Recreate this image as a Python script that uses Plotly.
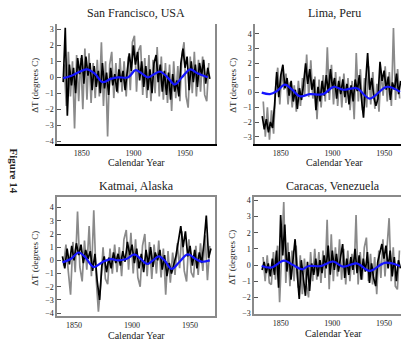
import plotly.graph_objects as go

W, H = 401, 347

# ---------------- data ----------------
titles = ["San Francisco, USA", "Lima, Peru", "Katmai, Alaska", "Caracas, Venezuela"]
x_tick_vals = [1850, 1900, 1950]
x_tick_text = ["1850", "1900", "1950"]

sf_black_years = list(range(1832, 1975, 2))
sf_black = [-0.3, 3.1, -2.4, 0.8, -0.5, 0.6, -1.0, 1.2, 0.2, 1.4, -0.4, 1.3, 0.1, 0.9, -0.8, 0.7,
            -0.6, 0.4, -1.0, 0.9, -0.7, 0.3, -1.1, 0.6, -0.5, 0.2, -0.9, 0.5, -0.3, 0.4, -0.8, 0.6,
            1.5, 0.4, 2.0, 0.8, 1.6, -0.2, 1.0, -0.6, 0.7, -0.8, 0.5, -1.0, 0.9, 1.4, -0.3, 0.8,
            -0.9, 0.4, -1.1, 0.3, -1.4, 0.2, -0.9, -0.2, -1.2, 0.9, 1.8, 0.6, 1.3, -0.8, 1.0, -0.3,
            0.8, -0.6, 0.9, 0.1, 1.1, -0.4, 0.6, -0.1]
sf_grey_years = list(range(1833, 1974, 2))
sf_grey = [0.8, -1.8, 1.6, -1.2, 1.0, -3.2, 1.4, -1.5, 1.2, -2.0, 1.8, -1.4, 1.5, -1.6, 0.9, -1.3,
           1.1, -1.2, 2.2, -1.8, 1.0, -3.7, 0.8, 1.6, -1.3, 0.9, -1.0, 1.2, -0.9, 1.0, -1.2, 1.3,
           -0.8, 2.2, 2.6, -0.9, 1.7, 2.0, -1.1, 1.2, -1.3, 1.4, -1.5, 1.1, -1.0, 1.9, -1.2, 1.3,
           -1.4, 0.9, -1.6, 0.8, -2.1, 1.0, -1.3, 0.7, -1.5, 1.4, 2.2, -1.2, -1.9, 1.3, -1.0, 1.6,
           -1.2, 1.1, -0.9, 1.3, -1.1, -1.5, 0.9]
sf_smooth_years = [1832, 1840, 1855, 1863, 1870, 1878, 1885, 1895, 1902, 1908, 1914, 1920, 1926,
                   1933, 1940, 1947, 1955, 1962, 1972]
sf_smooth = [-0.05, 0.1, 0.5, 0.2, -0.3, -0.1, 0.0, 0.0, 0.45, 0.25, 0.0, 0.2, 0.35, 0.0, -0.45,
             0.0, 0.5, 0.25, 0.0]

lima_black_years = list(range(1832, 1967, 2))
lima_black = [-1.6, -2.5, -1.8, -2.7, -2.0, -2.4, -0.8, 1.4, -0.3, 1.2, 1.9, 0.3, 1.0, -0.2, 0.8,
              -0.6, 0.2, -1.1, 0.3, -0.5, 0.6, 2.0, 0.6, 1.6, 0.2, 0.9, -1.2, 0.4, -0.6, 0.8, -0.2,
              1.2, 0.0, 1.6, 0.3, 1.0, -0.4, 0.8, -0.1, 0.9, -0.3, 0.6, -0.8, 0.5, -0.6, 0.9, 0.1,
              1.2, -0.4, -1.7, 0.6, 2.7, 0.2, 1.0, -0.3, -0.9, -0.4, 2.1, 0.8, 1.5, 0.2, 1.1, -0.5,
              0.7, 0.2, 1.3, -0.1, 0.8]
lima_grey_years = list(range(1833, 1966, 2))
lima_grey = [-0.6, -3.0, -1.0, -3.2, -1.2, -2.8, 0.4, 1.7, -0.8, 1.5, 0.2, 1.3, -0.8, 0.7, -1.0,
             0.5, -1.3, 0.8, -0.9, 1.0, -0.2, 2.6, -0.3, 2.2, -0.4, 1.1, -1.8, 0.9, -1.0, 1.2, -0.6,
             3.1, -0.5, 1.9, -0.8, 1.4, -0.9, 1.1, -1.0, 1.3, -0.7, 1.0, -1.2, 0.8, -1.8, 2.7, -0.6,
             1.6, -1.2, 1.0, -1.0, 1.8, -0.8, 1.4, -1.1, 0.6, -1.3, 1.5, -0.2, 1.8, -0.6, 1.4, -0.9,
             4.4, -0.5, 1.6, -0.4]
lima_smooth_years = [1831.5, 1839.5, 1846, 1854, 1861, 1868.6, 1878, 1891, 1901, 1910.5, 1923.5,
                     1936, 1952.5, 1965.4]
lima_smooth = [0.0, -0.1, 0.1, 0.55, 0.2, -0.25, -0.1, -0.1, 0.4, 0.2, 0.3, -0.4, 0.4, 0.05]

katmai_black_years = list(range(1840, 1969, 2))
katmai_black = [0.3, -0.6, 0.9, -0.3, 1.1, 0.0, 1.3, 0.4, 1.2, -0.2, 0.8, 0.1, 0.7, -0.8, 0.5,
                -1.6, -3.0, -0.4, 0.3, -0.9, 0.2, -0.6, 0.6, -0.2, 0.5, -0.4, 0.7, -0.1, 1.4, 0.4,
                1.2, -0.2, 0.9, -0.6, 0.5, -0.9, 0.8, -0.3, 1.0, -0.5, 0.6, 0.0, 0.8, -0.7, 0.4,
                -1.2, -0.2, -1.0, -0.3, 0.4, 1.5, 2.6, 1.0, 2.2, 0.3, 1.1, -0.4, 0.8, -0.6, 0.6,
                -0.2, 1.3, 3.4, 0.2, 0.9]
katmai_grey_years = list(range(1841, 1968, 2))
katmai_grey = [-0.4, 1.2, -0.8, -2.6, 1.4, -0.9, 3.7, -0.5, -1.6, 1.5, -0.7, 2.6, -1.2, 3.8, -1.3,
               -3.9, -1.8, 1.0, -1.4, -1.8, 0.9, -1.0, 1.2, -0.9, 1.0, -1.2, 1.6, 2.3, -0.7, 2.1,
               -1.0, 1.6, -1.3, -2.0, 1.1, 2.0, -1.2, 1.4, -1.4, 1.2, -1.0, 1.5, -1.3, 0.9, -2.6,
               0.7, -1.7, 0.6, -1.1, 1.3, -0.6, 2.2, -0.8, -1.6, 1.6, -0.9, -1.3, 1.1, -1.1, 1.3,
               -0.8, 1.9, -1.5, 1.1]
katmai_smooth_years = [1840, 1847, 1854, 1860, 1867, 1875, 1882, 1888, 1895, 1902, 1907, 1913,
                       1918, 1923, 1928, 1934, 1941, 1948, 1955, 1960, 1967]
katmai_smooth = [-0.15, 0.1, 0.6, 0.2, -0.5, -0.1, 0.1, 0.0, 0.1, 0.45, 0.15, -0.27, 0.0, 0.3,
                 0.0, -0.65, -0.1, 0.45, 0.1, -0.1, 0.0]

caracas_black_years = list(range(1832, 1967, 2))
caracas_black = [-0.3, 0.2, -0.5, 0.1, -0.7, 0.4, -0.6, 0.9, -1.4, 3.1, 0.6, 2.5, -0.4, 0.8, -0.9,
                 0.5, 1.6, -0.5, -2.1, 0.3, -1.0, -1.9, 0.2, -1.6, 0.1, -0.6, 0.4, -0.7, 0.3, -0.5,
                 0.6, -0.2, 1.2, -0.6, 0.9, -0.3, 0.7, -0.4, 0.5, 1.3, -0.8, 0.4, -0.6, 0.5, -0.3,
                 1.0, -0.5, 0.6, -0.9, 0.4, -0.4, 0.8, -1.1, 0.1, -0.8, -1.3, 0.2, 0.7, 1.3, 0.4,
                 1.2, -0.2, 0.9, -0.7, 0.5, -1.0, 0.3, -0.2]
caracas_grey_years = list(range(1833, 1966, 2))
caracas_grey = [0.5, -1.0, 0.6, -1.1, -1.2, 0.8, -0.9, 1.2, -2.3, 1.1, 3.9, -1.1, 1.4, -1.3, 0.9,
                -1.0, 1.2, -1.4, 0.6, -1.8, 0.4, -1.2, -2.0, 0.8, -1.0, 1.0, -0.9, 0.8, -1.1, 0.9,
                -0.8, 2.8, -1.5, 1.9, -1.0, 1.1, -0.7, 1.6, -0.9, 1.0, -1.2, 0.9, -1.0, 0.7, -0.6,
                3.1, -1.2, 0.8, -0.9, 1.1, 1.7, -1.0, 0.7, -1.2, 0.5, -1.8, 0.9, -0.8, 1.6, -0.7,
                1.0, 2.9, -1.0, 1.1, -1.3, -1.5, 0.9]
caracas_smooth_years = [1831.6, 1841, 1853.2, 1862, 1871, 1877, 1889, 1900.8, 1910.5, 1923.5,
                        1936.3, 1950.9, 1965.4]
caracas_smooth = [-0.06, -0.15, 0.28, 0.0, -0.26, -0.06, -0.06, 0.22, -0.1, 0.1, -0.36, 0.14, -0.06]

y_ticks = [[3, 2, 1, 0, -1, -2, -3, -4], [4, 3, 2, 1, 0, -1, -2, -3],
           [4, 3, 2, 1, 0, -1, -2, -3, -4], [4, 3, 2, 1, 0, -1, -2, -3]]

# ---------------- layout geometry (pixels) ----------------
boxes = [(57, 215, 23, 145), (255, 401, 23, 145), (57, 215, 199, 320), (254, 401, 199, 318)]
x_ranges = [[1826, 1979], [1825, 1966.3], [1835.3, 1971.5], [1824.2, 1966.5]]
y_ranges = [[-4.17, 3.36], [-3.49, 4.7], [-4.25, 4.8], [-3.05, 4.2]]

series = [
    (sf_grey_years, sf_grey, sf_black_years, sf_black, sf_smooth_years, sf_smooth),
    (lima_grey_years, lima_grey, lima_black_years, lima_black, lima_smooth_years, lima_smooth),
    (katmai_grey_years, katmai_grey, katmai_black_years, katmai_black, katmai_smooth_years, katmai_smooth),
    (caracas_grey_years, caracas_grey, caracas_black_years, caracas_black, caracas_smooth_years, caracas_smooth),
]

def px(x):
    return x / W

def py(y):
    return 1 - y / H

fig = go.Figure()
layout = dict(width=W, height=H, margin=dict(l=0, r=0, t=0, b=0),
              paper_bgcolor="white", plot_bgcolor="white", showlegend=False)
annotations = []
serif = "Liberation Serif"

for i, (gx, gy, bx, by, sx, sy) in enumerate(series):
    k = "" if i == 0 else str(i + 1)
    xa, ya = "x" + k, "y" + k
    fig.add_trace(go.Scatter(x=gx, y=gy, mode="lines", line=dict(color="#8a8a8a", width=1.7),
                             xaxis=xa, yaxis=ya, hoverinfo="skip"))
    fig.add_trace(go.Scatter(x=bx, y=by, mode="lines", line=dict(color="#000000", width=1.7),
                             xaxis=xa, yaxis=ya, hoverinfo="skip"))
    fig.add_trace(go.Scatter(x=sx, y=sy, mode="lines", line=dict(color="#1515ff", width=2.2, shape="spline"),
                             xaxis=xa, yaxis=ya, hoverinfo="skip"))
    l, r, t, b = boxes[i]
    top_row = i < 2
    layout["xaxis" + k] = dict(
        domain=[px(l), px(r)], range=x_ranges[i], anchor=ya,
        tickvals=x_tick_vals, ticktext=x_tick_text, ticks="", showgrid=False, zeroline=False,
        showline=True, linecolor="#000000" if top_row else "#8a8a8a", linewidth=2 if top_row else 1.5,
        mirror=(not top_row), tickfont=dict(family=serif, size=8, color="#222222"))
    layout["yaxis" + k] = dict(
        domain=[py(b), py(t)], range=y_ranges[i], anchor=xa,
        tickvals=y_ticks[i], ticks="inside", ticklen=4, tickcolor="#555555",
        showgrid=False, zeroline=False, showline=True, linecolor="#8a8a8a", linewidth=1.5,
        mirror=(i == 0 or i == 2), tickfont=dict(family=serif, size=8, color="#222222"))
    cx = (l + (r if r < 401 else l + 158)) / 2
    annotations.append(dict(text=titles[i], x=px(cx), y=py(t - 11), xref="paper", yref="paper",
                            showarrow=False, font=dict(family=serif, size=12, color="#222222"),
                            xanchor="center", yanchor="middle"))
    annotations.append(dict(text="Calendar Year", x=px(cx), y=py(b + 19), xref="paper", yref="paper",
                            showarrow=False, font=dict(family=serif, size=10, color="#222222"),
                            xanchor="center", yanchor="middle"))
    annotations.append(dict(text="ΔT (degrees C)", x=px(l - 22), y=py((t + b) / 2 + 2), xref="paper",
                            yref="paper", showarrow=False, textangle=-90,
                            font=dict(family=serif, size=9, color="#222222"),
                            xanchor="center", yanchor="middle"))

annotations.append(dict(text="<b>Figure 14</b>", x=px(14), y=py(173), xref="paper", yref="paper",
                        showarrow=False, textangle=90, font=dict(family=serif, size=11, color="#222222"),
                        xanchor="center", yanchor="middle"))
layout["annotations"] = annotations
fig.update_layout(**layout)
fig.write_html("out.html", config={"displayModeBar": False},
               post_script="document.body.style.margin='0';")
